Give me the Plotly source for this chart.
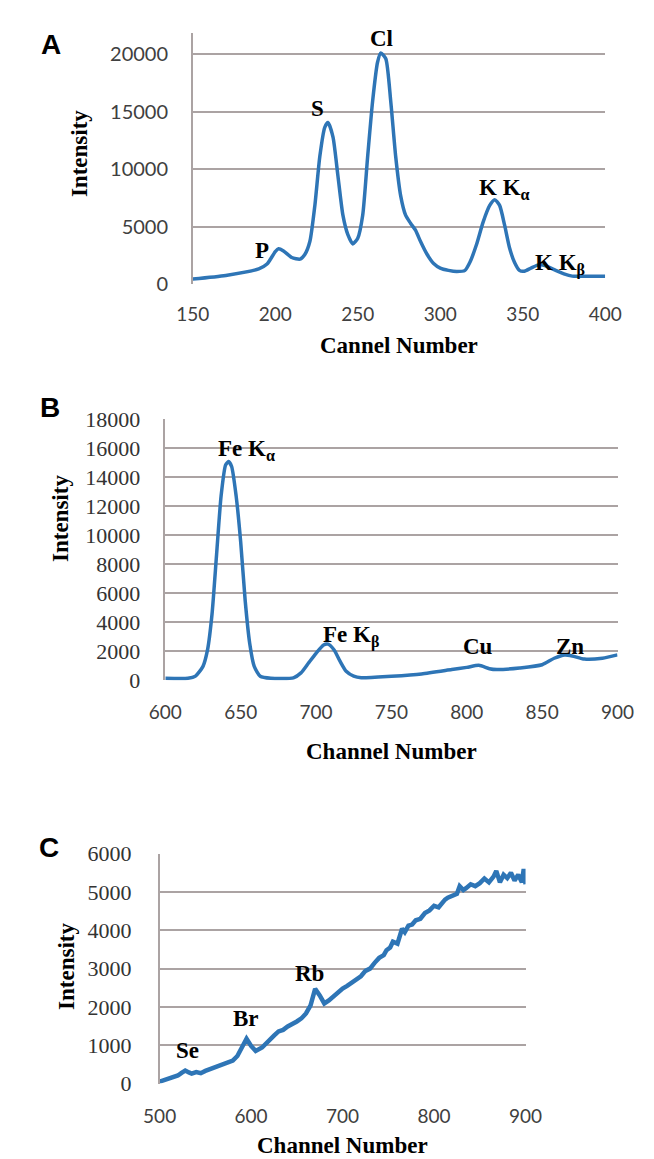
import plotly.graph_objects as go

# ---------------- data ----------------
a_channel = [150, 170, 190, 195, 200, 202, 205, 210, 215, 218, 221, 224, 227, 230, 232, 235, 238, 241,
             244, 247, 250, 253, 256, 259, 262, 264, 267, 270, 273, 276, 279, 282, 285, 288, 292, 296,
             300, 305, 310, 315, 318, 322, 326, 330, 333, 336, 339, 342, 345, 348, 351, 355, 360, 365,
             370, 375, 380, 390, 400]
a_intensity = [450, 760, 1330, 1750, 2830, 3080, 2890, 2320, 2180, 2600, 3730, 6850, 11100, 13640, 14060,
               12790, 9400, 6000, 4300, 3500, 4000, 6000, 11100, 15900, 19300, 20100, 19600, 15900, 11100,
               7700, 6000, 5300, 4700, 3730, 2600, 1800, 1400, 1200, 1100, 1200, 1900, 3450, 5400, 6850,
               7350, 6850, 5150, 3170, 1900, 1200, 1130, 1400, 1700, 1530, 1200, 900, 700, 700, 700]
a_labels = ["P", "S", "Cl", "K K<sub>α</sub>", "K K<sub>β</sub>"]
a_label_x = [192, 225.5, 264.5, 339, 372.5]
a_label_y = [2940, 15280, 21400, 8260, 1750]

b_channel = [600, 615, 620, 625, 628, 631, 634, 637, 640, 642, 644, 647, 650, 653, 656, 659, 663, 670,
             685, 690, 695, 700, 705, 708, 712, 716, 720, 725, 730, 750, 770, 790, 800, 808, 815, 820,
             835, 850, 858, 865, 870, 878, 890, 900]
b_intensity = [150, 150, 300, 970, 2100, 4580, 8650, 12700, 14850, 15080, 14740, 12700, 9550, 5490, 2550,
               970, 290, 150, 180, 520, 1200, 1870, 2440, 2500, 2100, 1310, 630, 290, 180, 290, 450, 750,
               900, 1040, 810, 750, 860, 1080, 1530, 1760, 1690, 1470, 1530, 1760]
b_labels = ["Fe K<sub>α</sub>", "Fe K<sub>β</sub>", "Cu", "Zn"]
b_label_x = [654, 723.5, 807.5, 868.7]
b_label_y = [15900, 3000, 2325, 2370]

c_channel = [500, 505, 510, 515, 520, 524, 528, 532, 535, 540, 545, 550, 555, 560, 565, 570, 575, 580,
             585, 590, 595, 600, 605, 612, 620, 625, 630, 635, 640, 645, 650, 655, 660, 665, 670, 675,
             680, 685, 690, 695, 700, 705, 710, 715, 720, 725, 730, 735, 740, 745, 748, 752, 755, 760,
             765, 768, 772, 776, 780, 785, 790, 795, 800, 805, 808, 812, 815, 820, 825, 828, 832, 835,
             840, 845, 850, 855, 860, 865, 868, 872, 876, 880, 884, 888, 892, 896, 898, 900]
c_intensity = [50, 90, 130, 170, 210, 280, 340, 290, 260, 300, 270, 330, 380, 420, 470, 500, 550, 600,
               720, 940, 1170, 980, 850, 940, 1150, 1250, 1360, 1400, 1490, 1540, 1620, 1700, 1830, 2040,
               2470, 2300, 2090, 2170, 2280, 2380, 2480, 2550, 2640, 2720, 2800, 2940, 3000, 3150, 3280,
               3350, 3480, 3550, 3700, 3650, 4040, 3950, 4120, 4150, 4260, 4300, 4450, 4520, 4640, 4600,
               4700, 4800, 4850, 4900, 4950, 5150, 5050, 5100, 5200, 5150, 5230, 5350, 5250, 5400, 5550,
               5250, 5450, 5360, 5500, 5300, 5450, 5250, 5600, 5200]
c_labels = ["Se", "Br", "Rb"]
c_label_x = [530, 594, 663.5]
c_label_y = [850, 1700, 2880]

# ---------------- styling ----------------
W, H = 654, 1159
LINE = "#2E75B6"
GRID = "#ABA3A3"
SANS = "Lato"
SERIF = "Liberation Serif"

fig = go.Figure()
fig.add_trace(go.Scatter(x=a_channel, y=a_intensity, mode="lines", xaxis="x", yaxis="y",
                         line=dict(color=LINE, width=3.5, shape="spline", smoothing=0.6), showlegend=False))
fig.add_trace(go.Scatter(x=b_channel, y=b_intensity, mode="lines", xaxis="x2", yaxis="y2",
                         line=dict(color=LINE, width=3.5, shape="spline", smoothing=0.6), showlegend=False))
fig.add_trace(go.Scatter(x=c_channel, y=c_intensity, mode="lines", xaxis="x3", yaxis="y3",
                         line=dict(color=LINE, width=4.5), showlegend=False))


def px_x(p):
    return p / W


def px_y(p):
    return 1 - p / H


def xax(domain, rng, dtick, standoff, anchor):
    return dict(domain=domain, range=rng, dtick=dtick, tick0=rng[0], showgrid=False, zeroline=False,
                showline=False, ticks="", ticklabelstandoff=standoff, tickformat="d", anchor=anchor,
                tickfont=dict(family=SANS, size=19, color="#404040"), fixedrange=True)


def yax(domain, rng, dtick, font, standoff, anchor):
    return dict(domain=domain, range=rng, dtick=dtick, tick0=0, showgrid=True, gridcolor=GRID, gridwidth=1.5,
                zeroline=False, showline=True, linecolor=GRID, linewidth=1.5, ticks="", tickformat="d",
                ticklabelstandoff=standoff, tickfont=font, anchor=anchor, fixedrange=True)


fig.update_layout(
    width=W, height=H, margin=dict(l=0, r=0, t=0, b=0),
    paper_bgcolor="white", plot_bgcolor="white",
    xaxis=xax([px_x(177), px_x(612)], [150, 400], 50, 17, "y"),
    yaxis=yax([px_y(270), px_y(13)], [0, 21870], 5000,
              dict(family=SANS, size=20, color="#404040"), 19, "x"),
    xaxis2=xax([px_x(148), px_x(625)], [600, 900], 50, 19, "y2"),
    yaxis2=yax([px_y(675), px_y(408)], [0, 18000], 2000,
               dict(family=SERIF, size=22, color="#333333"), 19, "x2"),
    xaxis3=xax([px_x(142), px_x(528)], [500, 900], 100, 19, "y3"),
    yaxis3=yax([px_y(1087), px_y(852)], [0, 6000], 1000,
               dict(family=SERIF, size=22, color="#333333"), 22, "x3"),
)

ann = []
title_font = dict(family=SERIF, size=23, color="black")
# panel letters
for letter, (lx, ly) in zip(["A", "B", "C"], [(27, 25), (26, 396), (25, 846)]):
    ann.append(dict(text=f"<b>{letter}</b>", x=px_x(lx), y=px_y(ly), xref="paper", yref="paper",
                    showarrow=False, font=dict(family="Liberation Sans", size=28, color="black"),
                    xanchor="center", yanchor="middle"))
# axis titles
for txt, (tx, ty) in zip(["Cannel Number", "Channel Number", "Channel Number"],
                         [(394, 333), (387, 748), (335, 1150)]):
    ann.append(dict(text=f"<b>{txt}</b>", x=px_x(tx), y=px_y(ty), xref="paper", yref="paper",
                    showarrow=False, font=title_font, xanchor="center", yanchor="middle"))
for (tx, ty) in [(57, 137), (38, 510), (43, 967)]:
    ann.append(dict(text="<b>Intensity</b>", x=px_x(tx), y=px_y(ty), xref="paper", yref="paper",
                    showarrow=False, font=title_font, textangle=-90, xanchor="center", yanchor="middle"))
# peak labels
label_font = dict(family=SERIF, size=23, color="black")
for labels, xs, ys, xr, yr in [(a_labels, a_label_x, a_label_y, "x", "y"),
                               (b_labels, b_label_x, b_label_y, "x2", "y2"),
                               (c_labels, c_label_x, c_label_y, "x3", "y3")]:
    for t, x, y in zip(labels, xs, ys):
        ann.append(dict(text=f"<b>{t}</b>", x=x, y=y, xref=xr, yref=yr, showarrow=False,
                        font=label_font, xanchor="center", yanchor="middle"))
fig.update_layout(annotations=ann)

fig.write_html("out.html")
